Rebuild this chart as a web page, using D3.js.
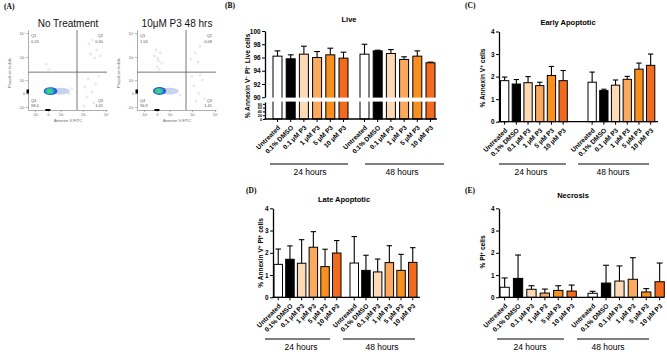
<!DOCTYPE html>
<html lang="en">
<head>
<meta charset="UTF-8">
<title>Annexin V / PI staining after P3 treatment</title>
<script src="https://cdn.jsdelivr.net/npm/d3@7"></script>
<style>
    body { margin: 0; background: #fff; }
    svg { display: block; font-family: Arial, "Liberation Sans", Helvetica, sans-serif; }
</style>
</head>
<body>
<svg width="667" height="352"></svg>
<script>
// ---------- data ----------
const treatments = ["Untreated", "0.1% DMSO", "0.1 \u03bcM P3", "1 \u03bcM P3", "5 \u03bcM P3", "10 \u03bcM P3"];
const timepoints = ["24 hours", "48 hours"];
const barColors = ["#ffffff", "#000000", "#fdd9b6", "#fba95c", "#f7901f", "#f26a1d"];

// mean and SEM, [24h, 48h]
const liveMean = [[96.2, 95.8, 96.5, 96.0, 96.4, 95.9], [96.5, 97.0, 96.6, 95.7, 96.2, 95.2]];
const liveErr  = [[0.8, 0.6, 1.2, 0.9, 1.0, 0.9], [1.5, 0.1, 0.6, 0.4, 0.8, 0.1]];
const earlyMean = [[1.82, 1.67, 1.73, 1.60, 2.05, 1.82], [1.75, 1.38, 1.62, 1.88, 2.33, 2.50]];
const earlyErr  = [[0.16, 0.20, 0.27, 0.15, 0.40, 0.45], [0.45, 0.06, 0.23, 0.13, 0.27, 0.50]];
const lateMean = [[1.48, 1.71, 1.53, 2.25, 1.38, 1.99], [1.54, 1.21, 1.14, 1.56, 1.21, 1.57]];
const lateErr  = [[0.69, 0.60, 1.06, 0.70, 0.78, 0.56], [1.19, 0.68, 0.58, 0.76, 0.72, 0.66]];
const necMean = [[0.45, 0.85, 0.36, 0.19, 0.31, 0.28], [0.18, 0.64, 0.73, 0.81, 0.24, 0.70]];
const necErr  = [[0.42, 1.05, 0.16, 0.18, 0.21, 0.27], [0.09, 0.80, 0.68, 0.97, 0.15, 0.84]];

const liveUpperTicks = [90, 92, 94, 96, 98, 100];
const liveLowerTicks = [0, 20, 40, 60, 80];
const percentTicks = [0, 1, 2, 3, 4];

// panel A: flow cytometry (Annexin V-FITC vs PI)
const flowTitles = ["No Treatment", "10\u03bcM P3 48 hrs"];
const quadNames = ["Q1", "Q2", "Q3", "Q4"];
const quadValues = [["0.24", "0.30", "1.01", "98.4"], ["1.56", "0.08", "1.41", "96.9"]];
const flowTicks = [-100, 0, 100, 1000, 10000];
const flowTickLabels = ["-10\u00b2", "0", "10\u00b2", "10\u00b3", "10\u2074"];
const gateAnnexin = 550, gatePI = 230;
// main population contours: [annexin, PI, spread x, spread y] (spread in display decades)
const blobContours = [
    [[90, 14, 1.0, 0.32], [16, 14, 0.68, 0.38], [12, 14, 0.46, 0.29], [10, 14, 0.29, 0.21]],
    [[95, 14, 0.95, 0.32], [16, 15, 0.66, 0.38], [12, 15, 0.45, 0.29], [10, 15, 0.28, 0.21]]
];
const blobColors = ["#c7d2ef", "#2f56d0", "#1bb3d4", "#44cf72"];
// sparse events outside the main population: [annexin, PI]
const sparseEvents = [
    [[1800, 3500], [2600, 5200], [4000, 2000], [2200, 1300], [5500, 1100], [3300, 900],
     [1200, 40], [1700, 120], [2500, 10], [1500, -20], [3500, 60], [2900, -60], [1100, -90], [4800, 150],
     [5, 300], [-10, 500], [160, 20], [240, 0], [320, 30]],
    [[0, 400], [10, 700], [-15, 1100], [20, 1500], [5, 900], [30, 550], [-5, 2000], [15, 300],
     [900, 800], [1400, 1500], [2200, 2800], [1800, 600],
     [1200, 50], [2000, 0], [2800, 100], [1500, -50], [3500, -30], [1000, 150], [2300, 170], [200, 10], [300, -10]]
];
// events piled on the axes: [annexin on x axis, PI on y axis]
const axisPileups = [[0, 12], [0, 12]];

// ---------- drawing ----------
const svg = d3.select("svg");
const SERIF = "'Times New Roman', 'Liberation Serif', serif";

// panel letters
[["(A)", 4, 9], ["(B)", 225, 8], ["(C)", 465, 8], ["(D)", 246, 193], ["(E)", 465, 193]].forEach(([t, x, y]) => {
    svg.append("text").attr("x", x).attr("y", y).attr("font-family", SERIF)
        .attr("font-weight", "bold").attr("font-size", 7.5).text(t);
});

function drawFlow(k) {
    const left = [28, 137][k], top = 30, w = 79, h = 80;
    const tf = v => Math.asinh(v / 60);
    const xT = d3.scaleLinear().domain([-1.99, 5.91]).range([left, left + w]);
    const yT = d3.scaleLinear().domain([-1.58, 6.1]).range([top + h, top]);
    const x = v => xT(tf(v)), y = v => yT(tf(v));
    const g = svg.append("g");

    g.append("text").attr("x", left + 40).attr("y", 27).attr("text-anchor", "middle")
        .attr("font-size", 10).attr("fill", "#111").text(flowTitles[k]);

    g.selectAll("circle.ev").data(sparseEvents[k]).join("circle").attr("class", "ev")
        .attr("cx", d => x(d[0])).attr("cy", d => y(d[1])).attr("r", 1)
        .attr("fill", "none").attr("stroke", "#c4c4c4").attr("stroke-width", 0.45);

    // population
    g.selectAll("ellipse").data(blobContours[k]).join("ellipse")
        .attr("cx", d => x(d[0])).attr("cy", d => y(d[1]))
        .attr("rx", d => xT(d[2]) - xT(0)).attr("ry", d => yT(0) - yT(d[3]))
        .attr("fill", (d, i) => blobColors[i]);

    // gates
    g.append("line").attr("x1", x(gateAnnexin)).attr("x2", x(gateAnnexin))
        .attr("y1", top).attr("y2", top + h).attr("stroke", "#555").attr("stroke-width", 0.8);
    g.append("line").attr("x1", left).attr("x2", left + w)
        .attr("y1", y(gatePI)).attr("y2", y(gatePI)).attr("stroke", "#555").attr("stroke-width", 0.8);

    const xAxis = g.append("g").attr("transform", `translate(0,${top + h})`)
        .call(d3.axisBottom(xT).tickValues(flowTicks.map(tf)).tickFormat((d, i) => flowTickLabels[i])
            .tickSize(2).tickSizeOuter(0).tickPadding(1));
    const yAxis = g.append("g").attr("transform", `translate(${left},0)`)
        .call(d3.axisLeft(yT).tickValues(flowTicks.map(tf)).tickFormat((d, i) => flowTickLabels[i])
            .tickSize(2).tickSizeOuter(0).tickPadding(1));
    [xAxis, yAxis].forEach(a => {
        a.select(".domain").attr("stroke", "#777").attr("stroke-width", 0.6);
        a.selectAll(".tick line").attr("stroke", "#777").attr("stroke-width", 0.5);
        a.selectAll("text").attr("font-size", 3.6).attr("fill", "#666");
    });

    // pile-ups on axes
    g.append("rect").attr("x", x(axisPileups[k][0]) - 2.5).attr("y", top + h - 1)
        .attr("width", 5).attr("height", 2).attr("fill", "#000");
    g.append("rect").attr("x", left - 1.5).attr("y", y(axisPileups[k][1]) - 2)
        .attr("width", 2.5).attr("height", 4).attr("fill", "#000");

    // quadrant labels
    const qx = [left + 3, left + w - 4, left + w - 4, left + 3];
    const qy = [37, 37, 101.5, 101.5];
    quadNames.forEach((q, i) => {
        const anchor = (i === 1 || i === 2) ? "end" : "start";
        g.append("text").attr("x", qx[i]).attr("y", qy[i]).attr("text-anchor", anchor)
            .attr("font-size", 4).attr("fill", "#555").text(q);
        g.append("text").attr("x", qx[i]).attr("y", qy[i] + 5.5).attr("text-anchor", anchor)
            .attr("font-size", 4).attr("fill", "#555").text(quadValues[k][i]);
    });

    g.append("text").attr("transform", `translate(${left - 17},${top + 43}) rotate(-90)`)
        .attr("text-anchor", "middle").attr("font-size", 4).attr("fill", "#666").text("Propidium Iodide");
    g.append("text").attr("x", left + 40).attr("y", 122).attr("text-anchor", "middle")
        .attr("font-size", 4).attr("fill", "#666").text("Annexin V-FITC");
}
drawFlow(0);
drawFlow(1);

// y label with superscripts
function richLabel(g, x, y, parts) {
    const t = g.append("text").attr("transform", `translate(${x},${y}) rotate(-90)`)
        .attr("text-anchor", "middle").attr("font-size", 6.6).attr("font-weight", "bold");
    let raised = false;
    parts.forEach(([s, sup]) => {
        const ts = t.append("tspan").text(s);
        if (sup && !raised) { ts.attr("dy", -2.2).attr("font-size", 4.6); raised = true; }
        else if (sup) { ts.attr("font-size", 4.6); }
        else if (raised) { ts.attr("dy", 2.2); raised = false; }
    });
}

function styleAxis(a, fs) {
    a.select(".domain").attr("stroke", "#000").attr("stroke-width", 1.3);
    a.selectAll(".tick line").attr("stroke", "#000").attr("stroke-width", 1);
    a.selectAll("text").attr("font-size", fs).attr("font-weight", "bold").attr("fill", "#000");
}

function drawBars(p) {
    const g = svg.append("g");
    const y = p.y;

    g.append("text").attr("x", p.titleX).attr("y", p.titleY).attr("text-anchor", "middle")
        .attr("font-size", 7.5).attr("font-weight", "bold").text(p.title);

    const bands = timepoints.map((tp, gi) => d3.scaleBand().domain(treatments)
        .range([p.g[gi], p.g[gi] + 5 * p.step + p.bw]).paddingInner(1 - p.bw / p.step));

    timepoints.forEach((tp, gi) => {
        const xb = bands[gi];
        const rows = treatments.map((t, i) => ({ t, i, m: p.mean[gi][i], e: p.err[gi][i] }));
        const cx = d => xb(d.t) + xb.bandwidth() / 2;
        const cap = xb.bandwidth() * 0.32;
        g.selectAll(null).data(rows).join("line")
            .attr("x1", cx).attr("x2", cx).attr("y1", d => y(d.m)).attr("y2", d => y(d.m + d.e))
            .attr("stroke", "#000").attr("stroke-width", 1.1);
        g.selectAll(null).data(rows).join("line")
            .attr("x1", d => cx(d) - cap).attr("x2", d => cx(d) + cap)
            .attr("y1", d => y(d.m + d.e)).attr("y2", d => y(d.m + d.e))
            .attr("stroke", "#000").attr("stroke-width", 1.1);
        g.selectAll(null).data(rows).join("rect")
            .attr("x", d => xb(d.t)).attr("width", xb.bandwidth())
            .attr("y", d => y(d.m)).attr("height", d => p.base - y(d.m))
            .attr("fill", d => barColors[d.i]).attr("stroke", "#000").attr("stroke-width", 1);

        const xa = g.append("g").attr("transform", `translate(0,${p.base})`)
            .call(d3.axisBottom(xb).tickSize(3).tickSizeOuter(0));
        xa.select(".domain").remove();
        xa.selectAll(".tick line").attr("stroke", "#000").attr("stroke-width", 1);
        xa.selectAll("text").attr("x", 0).attr("y", 0).attr("dy", "0.35em")
            .attr("transform", "translate(1.5,7.5) rotate(-45)").attr("text-anchor", "end")
            .attr("font-size", 6.6).attr("font-weight", "bold").attr("fill", "#000");

        // group bracket
        g.append("line").attr("x1", p.lines[gi][0]).attr("x2", p.lines[gi][1])
            .attr("y1", p.lineY).attr("y2", p.lineY).attr("stroke", "#000").attr("stroke-width", 1);
        g.append("text").attr("x", p.textX[gi]).attr("y", p.lineY + 11).attr("text-anchor", "middle")
            .attr("font-size", 8.5).text(tp);
    });

    const fmt = d3.format("d");
    if (p.broken) {
        // break in the axis and bars
        g.append("rect").attr("x", p.ax - 6).attr("y", 97.6).attr("width", p.axEnd - p.ax + 10)
            .attr("height", 4).attr("fill", "#fff");
        styleAxis(g.append("g").attr("transform", `translate(${p.ax},0)`)
            .call(d3.axisLeft(p.upper).tickValues(liveUpperTicks).tickFormat(fmt)
                .tickSize(3).tickSizeOuter(0).tickPadding(1.5)), 6.4);
        styleAxis(g.append("g").attr("transform", `translate(${p.ax},0)`)
            .call(d3.axisLeft(p.lower).tickValues(liveLowerTicks).tickFormat(fmt)
                .tickSize(2).tickSizeOuter(0).tickPadding(1)), 3.8);
    } else {
        styleAxis(g.append("g").attr("transform", `translate(${p.ax},0)`)
            .call(d3.axisLeft(y).tickValues(percentTicks).tickFormat(fmt)
                .tickSize(3).tickSizeOuter(0).tickPadding(1.5)), 6.4);
    }
    g.append("line").attr("x1", p.ax - 0.6).attr("x2", p.axEnd).attr("y1", p.base).attr("y2", p.base)
        .attr("stroke", "#000").attr("stroke-width", 1.3);

    richLabel(g, p.labelX, p.labelY, p.label);
}

// Live (broken axis)
const liveUpper = d3.scaleLinear().domain([90, 100]).range([97.2, 31]);
const liveLower = d3.scaleLinear().domain([0, 90]).range([119, 102]);
drawBars({
    title: "Live", titleX: 349, titleY: 22, mean: liveMean, err: liveErr,
    broken: true, upper: liveUpper, lower: liveLower,
    y: v => v >= 90 ? liveUpper(v) : liveLower(v),
    ax: 265, axEnd: 437, base: 119, g: [273, 360], step: 13.2, bw: 9,
    lineY: 164, lines: [[270, 348], [365, 444]], textX: [310, 402],
    labelX: 250, labelY: 76,
    label: [["% Annexin V"], ["\u2212", 1], [" PI"], ["\u2212", 1], [" Live cells"]]
});

drawBars({
    title: "Early Apoptotic", titleX: 568, titleY: 25, mean: earlyMean, err: earlyErr,
    y: d3.scaleLinear().domain([0, 4]).range([121.7, 31.5]),
    ax: 499, axEnd: 658, base: 121.7, g: [500.5, 588], step: 11.7, bw: 8.3,
    lineY: 164, lines: [[499, 566], [578, 649]], textX: [531, 613],
    labelX: 485, labelY: 78,
    label: [["% Annexin V"], ["+", 1], [" cells"]]
});

drawBars({
    title: "Late Apoptotic", titleX: 344, titleY: 201.5, mean: lateMean, err: lateErr,
    y: d3.scaleLinear().domain([0, 4]).range([297.3, 208.3]),
    ax: 273, axEnd: 420, base: 297.3, g: [274, 350], step: 11.7, bw: 8.5,
    lineY: 339, lines: [[265, 330], [343, 415]], textX: [301, 382],
    labelX: 263, labelY: 253,
    label: [["% Annexin V"], ["+", 1], [" PI"], ["+", 1], [" cells"]]
});

drawBars({
    title: "Necrosis", titleX: 573, titleY: 198, mean: necMean, err: necErr,
    y: d3.scaleLinear().domain([0, 4]).range([297.3, 208.3]),
    ax: 499, axEnd: 664, base: 297.3, g: [500, 588], step: 13.4, bw: 9.3,
    lineY: 339, lines: [[497, 564], [577, 649]], textX: [530, 608],
    labelX: 485, labelY: 252,
    label: [["% PI"], ["+", 1], [" cells"]]
});
</script>
</body>
</html>
